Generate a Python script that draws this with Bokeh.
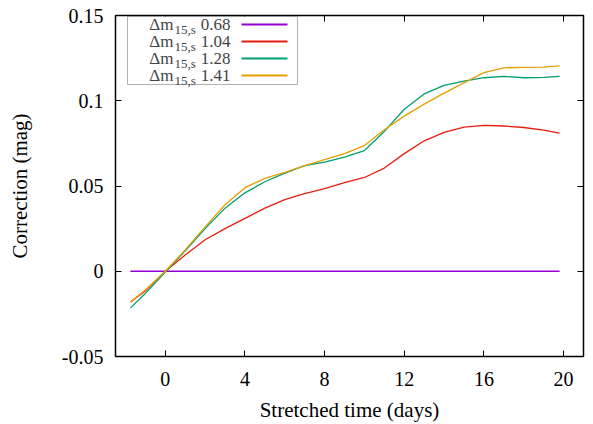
from bokeh.plotting import figure
from bokeh.models import (FixedTicker, LinearAxis, Label, BoxAnnotation)
from bokeh.embed import file_html
from bokeh.resources import INLINE

# ---- data ----
days = [-1.75, -1, 0, 1, 2, 3, 4, 5, 6, 7, 8, 9, 10, 11, 12, 13, 14, 15,
        16, 17, 18, 19, 19.8]
corr_068 = [0.0] * len(days)
corr_104 = [-0.018, -0.0115, 0.0, 0.0095, 0.0185, 0.025, 0.031, 0.037, 0.042,
            0.0455, 0.0485, 0.052, 0.055, 0.0605, 0.069, 0.0765, 0.0815, 0.0845,
            0.0855, 0.0852, 0.0843, 0.0828, 0.081]
corr_128 = [-0.0215, -0.013, -0.0005, 0.012, 0.025, 0.037, 0.046, 0.0525,
            0.0575, 0.062, 0.064, 0.067, 0.0708, 0.082, 0.095, 0.104, 0.109,
            0.1115, 0.1135, 0.1143, 0.1135, 0.1137, 0.1143]
corr_141 = [-0.018, -0.011, 0.0, 0.0125, 0.026, 0.039, 0.049, 0.0545, 0.058,
            0.062, 0.0655, 0.069, 0.0737, 0.083, 0.091, 0.098, 0.1045, 0.1105,
            0.1165, 0.1193, 0.1196, 0.1197, 0.1204]
dm15_labels = ["0.68", "1.04", "1.28", "1.41"]
series = [corr_068, corr_104, corr_128, corr_141]
colors = ["#9400d3", "#e51e10", "#009e73", "#e69f00"]

x_ticks = [0, 4, 8, 12, 16, 20]
y_ticks = [-0.05, 0, 0.05, 0.1, 0.15]
y_tick_labels = {-0.05: "-0.05", 0: "0", 0.05: "0.05", 0.1: "0.1", 0.15: "0.15"}

FONT = "Liberation Serif"
TICK_SIZE = "20px"
TITLE_SIZE = "21px"

p = figure(width=593, height=424, x_range=(-2.5, 21), y_range=(-0.05, 0.15),
           output_backend="svg", toolbar_location=None,
           min_border_left=115, min_border_right=10, min_border_top=15,
           min_border_bottom=63, x_axis_label="Stretched time (days)",
           y_axis_label="Correction (mag)")
p.grid.visible = False
p.outline_line_color = "black"
p.outline_line_width = 1.5
p.background_fill_color = "white"

for vals, c in zip(series, colors):
    p.line(days, vals, line_color=c, line_width=1.3)

p.xaxis.ticker = FixedTicker(ticks=x_ticks)
p.yaxis.ticker = FixedTicker(ticks=y_ticks)
p.yaxis.major_label_overrides = y_tick_labels

for ax in (p.xaxis[0], p.yaxis[0]):
    ax.axis_line_color = None
    ax.major_tick_in = 6
    ax.major_tick_out = 0
    ax.minor_tick_line_color = None
    ax.major_tick_line_color = "black"
    ax.major_label_text_font = FONT
    ax.major_label_text_font_size = TICK_SIZE
    ax.major_label_text_color = "black"
    ax.axis_label_text_font = FONT
    ax.axis_label_text_font_size = TITLE_SIZE
    ax.axis_label_text_font_style = "normal"
    ax.axis_label_text_color = "black"
p.xaxis.major_label_standoff = 15
p.xaxis.axis_label_standoff = 9
p.yaxis.major_label_standoff = 12
p.yaxis.axis_label_standoff = 27

# mirrored ticks on top and right (no labels)
for loc, tick_vals in (("right", y_ticks), ("above", x_ticks)):
    ax = LinearAxis(ticker=FixedTicker(ticks=tick_vals))
    ax.axis_line_color = None
    ax.major_tick_in = 6
    ax.major_tick_out = 0
    ax.minor_tick_line_color = None
    ax.major_label_overrides = {v: "" for v in tick_vals}
    ax.major_label_standoff = 0
    p.add_layout(ax, loc)

# ---- legend (text left, sample right, like the reference) ----
box = BoxAnnotation(left=12, right=182, top=340, bottom=272,
                    left_units="screen", right_units="screen",
                    top_units="screen", bottom_units="screen",
                    fill_color="white", fill_alpha=1.0,
                    line_color="black", line_width=1)
p.add_layout(box)
row_y = [332, 315, 298, 281]
for lab, c, yy in zip(dm15_labels, colors, row_y):
    p.add_layout(Label(x=58, y=yy, x_units="screen", y_units="screen",
                       text="Δm", text_align="right", text_baseline="middle",
                       text_font=FONT, text_font_size="17px"))
    p.add_layout(Label(x=59, y=yy - 5, x_units="screen", y_units="screen",
                       text="15,s", text_align="left", text_baseline="middle",
                       text_font=FONT, text_font_size="13px"))
    p.add_layout(Label(x=115, y=yy, x_units="screen", y_units="screen",
                       text=lab, text_align="right", text_baseline="middle",
                       text_font=FONT, text_font_size="17px"))
    p.add_layout(BoxAnnotation(left=126, right=172, top=yy + 1,
                               bottom=yy - 1,
                               left_units="screen", right_units="screen",
                               top_units="screen", bottom_units="screen",
                               fill_color=c, fill_alpha=1.0, line_color=None))

open("out.html", "w").write(file_html(p, INLINE))
